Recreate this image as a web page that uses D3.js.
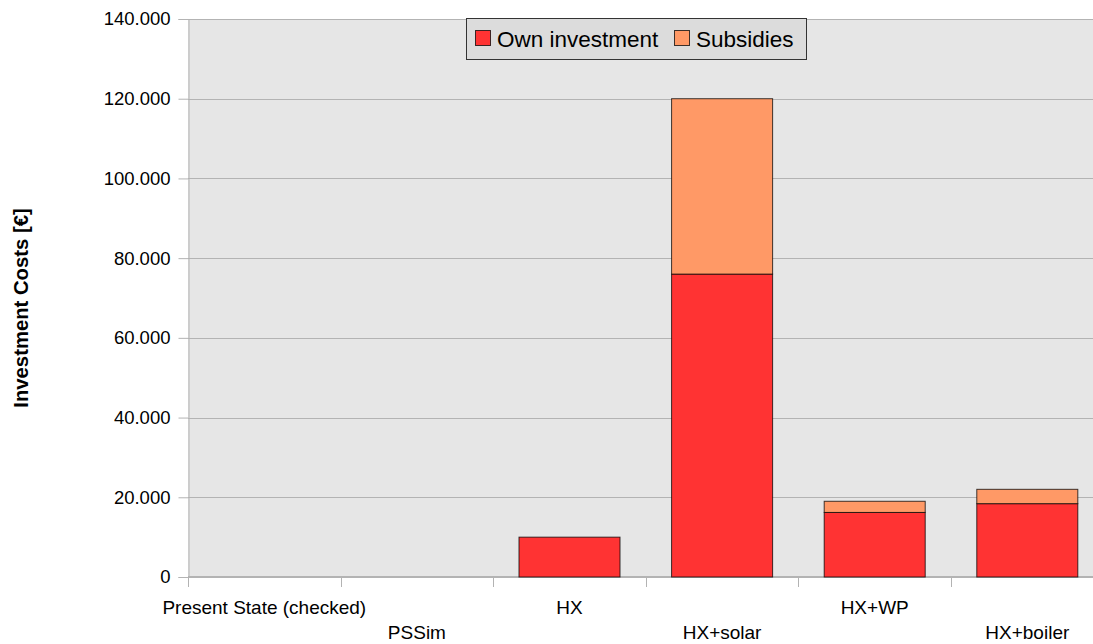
<!DOCTYPE html>
<html>
<head>
<meta charset="utf-8">
<script src="https://cdn.jsdelivr.net/npm/d3@7/dist/d3.min.js"></script>
<style>
  html, body { margin: 0; padding: 0; background: #ffffff; }
  svg { display: block; font-family: "Liberation Sans", Arial, sans-serif; }
</style>
</head>
<body>
<svg id="chart" width="1093" height="644"></svg>
<script>
const categories = ["Present State (checked)", "PSSim", "HX", "HX+solar", "HX+WP", "HX+boiler"];
const ownInvestment = [0, 0, 10000, 76000, 16200, 18400];
const subsidies = [0, 0, 0, 44000, 2800, 3600];
const seriesNames = ["Own investment", "Subsidies"];
const seriesColors = ["#ff3333", "#ff9966"];
const yTicks = [0, 20000, 40000, 60000, 80000, 100000, 120000, 140000];
const yLabel = "Investment Costs [€]";

const svg = d3.select("#chart");
const W = 1093, H = 644;
const m = { left: 188, top: 19, bottom: 577, right: 1103.6 };

const x = d3.scaleBand().domain(categories).range([m.left, m.right]).padding(0);
const y = d3.scaleLinear().domain([0, 140000]).range([m.bottom, m.top]);
const fmt = d3.formatLocale({ decimal: ",", thousands: ".", grouping: [3], currency: ["", "€"] }).format(",d");

svg.append("defs").append("clipPath").attr("id", "clipR")
  .append("rect").attr("x", 0).attr("y", 0).attr("width", W).attr("height", H);

const g = svg.append("g").attr("clip-path", "url(#clipR)");

// plot background
g.append("rect").attr("x", m.left).attr("y", m.top)
  .attr("width", m.right - m.left).attr("height", m.bottom - m.top)
  .attr("fill", "#e6e6e6");

// gridlines
g.append("g").selectAll("line").data(yTicks.filter(d => d > 0)).join("line")
  .attr("x1", m.left).attr("x2", m.right)
  .attr("y1", d => Math.round(y(d)) + 0.5).attr("y2", d => Math.round(y(d)) + 0.5)
  .attr("stroke", "#b3b3b3").attr("stroke-width", 1);

// y axis
const yAxis = d3.axisLeft(y).tickValues(yTicks).tickFormat(fmt).tickSize(10).tickPadding(8);
const ya = g.append("g").attr("transform", `translate(${m.left + 0.5},0)`).call(yAxis);
ya.select(".domain").attr("stroke", "#b3b3b3");
ya.selectAll(".tick line").attr("stroke", "#b3b3b3");
ya.selectAll(".tick text").attr("font-size", "18.5px").attr("fill", "#000")
  .attr("font-family", "Liberation Sans, Arial, sans-serif");

// x axis (category boundaries ticks)
const boundaries = d3.range(categories.length + 1).map(i => m.left + i * x.step());
g.append("g").selectAll("line").data(boundaries).join("line")
  .attr("x1", d => Math.round(d) + 0.5).attr("x2", d => Math.round(d) + 0.5)
  .attr("y1", m.bottom).attr("y2", m.bottom + 10)
  .attr("stroke", "#b3b3b3");
g.append("line").attr("x1", m.left).attr("x2", m.right)
  .attr("y1", m.bottom).attr("y2", m.bottom)
  .attr("stroke", "#b3b3b3").attr("stroke-width", 2);

// category labels (staggered)
g.append("g").selectAll("text").data(categories).join("text")
  .attr("x", d => x(d) + x.bandwidth() / 2)
  .attr("y", (d, i) => i % 2 === 0 ? 613.5 : 639)
  .attr("text-anchor", "middle")
  .attr("font-size", "19px")
  .attr("fill", "#000")
  .text(d => d);

// stacked bars
const rows = categories.map((c, i) => ({ cat: c, own: ownInvestment[i], sub: subsidies[i] }));
const stack = d3.stack().keys(["own", "sub"])(rows);
const bw = x.bandwidth() * 0.662;
g.append("g").selectAll("g").data(stack).join("g")
  .attr("fill", (d, i) => seriesColors[i])
  .selectAll("rect").data(d => d.filter(p => p[1] - p[0] > 0)).join("rect")
  .attr("x", d => x(d.data.cat) + (x.bandwidth() - bw) / 2)
  .attr("y", d => y(d[1]))
  .attr("width", bw)
  .attr("height", d => y(d[0]) - y(d[1]))
  .attr("stroke", "#000").attr("stroke-opacity", 0.75).attr("stroke-width", 1);

// y axis title
svg.append("text")
  .attr("transform", `translate(28,308) rotate(-90)`)
  .attr("text-anchor", "middle")
  .attr("font-size", "20.3px").attr("font-weight", "bold")
  .attr("fill", "#000")
  .text(yLabel);

// legend
const lg = svg.append("g");
lg.append("rect").attr("x", 466.5).attr("y", 18.5).attr("width", 340).attr("height", 41)
  .attr("fill", "#dcdcdc").attr("stroke", "#333");
const legendItems = [
  { name: seriesNames[0], color: seriesColors[0], sx: 475, tx: 497 },
  { name: seriesNames[1], color: seriesColors[1], sx: 674, tx: 696 }
];
lg.selectAll("rect.sw").data(legendItems).join("rect").attr("class", "sw")
  .attr("x", d => d.sx + 0.5).attr("y", 30.5).attr("width", 15).attr("height", 15)
  .attr("fill", d => d.color).attr("stroke", "#000").attr("stroke-opacity", 0.75);
lg.selectAll("text").data(legendItems).join("text")
  .attr("x", d => d.tx).attr("y", 47)
  .attr("font-size", "22.5px").attr("fill", "#000")
  .text(d => d.name);
</script>
</body>
</html>
